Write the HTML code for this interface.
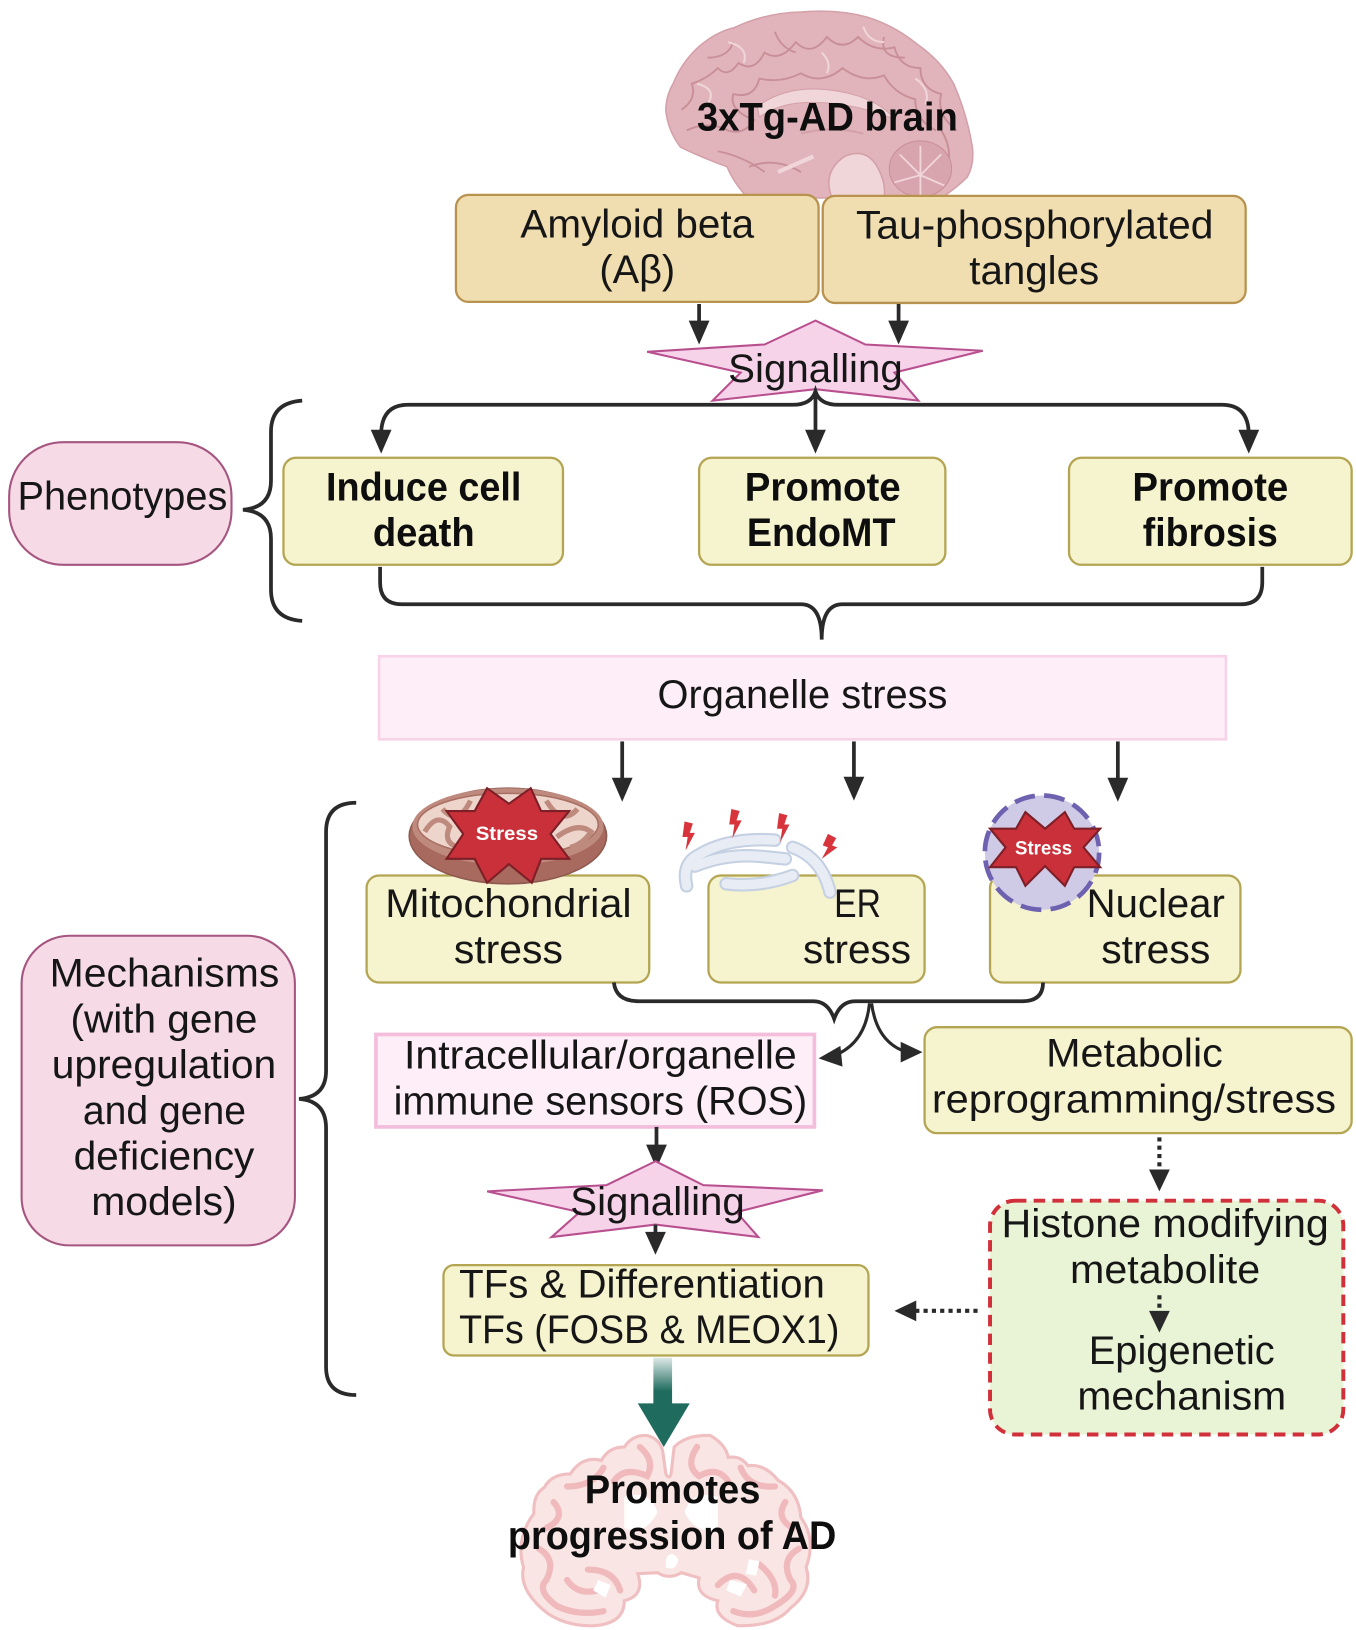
<!DOCTYPE html>
<html>
<head>
<meta charset="utf-8">
<style>
html,body{margin:0;padding:0;background:#fff;}
svg{display:block;}
text{font-family:"Liberation Sans",sans-serif;font-size:38px;fill:#161616;}
.b{font-weight:700;fill:#0e0e0e;}
.s{font-weight:700;font-size:19px;fill:#fff;}
.box{fill:#f6f3cf;stroke:#b3a552;stroke-width:2.2;}
.tan{fill:#f0deb0;stroke:#b8924f;stroke-width:2.2;}
.ln{fill:none;stroke:#2a2a2a;stroke-width:3.6;}
.ar{fill:#2a2a2a;}
.dot{fill:none;stroke:#2a2a2a;stroke-width:4;stroke-dasharray:4 4;}
.pill{fill:#f6dbe6;stroke:#a5557f;stroke-width:2;}
.star{fill:#f7d3ea;stroke:#b8508f;stroke-width:2;}
.fold{fill:none;stroke:#c98f99;stroke-width:1.8;}
.lite{fill:none;stroke:#efd5d8;stroke-width:2;}
.cf{fill:none;stroke:#f0babd;stroke-width:6;stroke-linecap:round;}
.er1{fill:none;stroke:#c5d1e2;stroke-width:13;stroke-linecap:round;}
.er2{fill:none;stroke:#e8edf5;stroke-width:9;stroke-linecap:round;}
</style>
</head>
<body>
<svg xmlns="http://www.w3.org/2000/svg" width="1356" height="1630" viewBox="-0.8 -0.5 1305 1568.6">
<defs>
<linearGradient id="g" x1="0" y1="0" x2="0" y2="1">
<stop offset="0" stop-color="#1f6b5e" stop-opacity="0.15"/>
<stop offset="0.7" stop-color="#1f6b5e"/>
</linearGradient>
</defs>

<!-- sagittal brain -->
<path d="M640,106 Q640,92 647,80 Q655,60 671,45 Q688,30 706,26 Q735,12 770,11 Q805,8 834,16 Q860,24 882,42 Q905,58 917,80 Q930,110 935,141 Q937,158 930,170 Q920,180 905,190 L719,190 Q705,175 699,160 Q672,150 654,141 Q642,125 640,106 Z" fill="#e0b4ba" stroke="#d4a0a9" stroke-width="1.5"/>
<path class="fold" d="M655,105 Q670,95 665,80 Q680,75 690,65 Q700,75 710,60 Q725,70 735,50 Q750,60 765,40 Q780,55 795,35 Q810,50 825,35 Q840,50 860,45 Q865,65 885,65 Q885,85 905,90 Q900,110 920,125 M660,125 Q680,115 700,125 Q715,130 725,115 Q700,105 705,90 Q725,95 730,75 Q750,80 770,70 Q790,82 810,65 Q830,80 850,72 Q860,90 880,95 Q880,115 900,125 M680,55 Q700,55 705,40 M745,30 Q750,45 765,50 M850,35 Q845,55 870,55 M905,125 Q915,140 912,160 M690,145 Q715,150 735,165 M720,160 Q745,150 770,165"/>
<path class="lite" d="M670,80 Q690,85 680,100 M790,50 Q800,60 795,70 M700,40 Q720,45 715,60 M830,25 Q835,40 850,40 M880,75 Q895,85 890,100"/>
<path d="M728,102 Q760,78 810,88 Q845,95 860,114 Q820,98 780,98 Q750,98 730,112 Z" fill="#f0d6d9" stroke="#d4a0a9" stroke-width="1"/>
<path d="M800,190 Q790,165 812,150 Q835,140 846,165 Q852,178 850,190 Z" fill="#f0d6d9" stroke="#d4a0a9" stroke-width="1.5"/>
<ellipse cx="885" cy="162" rx="30" ry="27" fill="#d8a4ad" stroke="#c98f99"/>
<path d="M885,168 L865,148 M885,168 L905,148 M885,168 L860,175 M885,168 L908,178 M885,168 L885,190 M885,168 L885,140" stroke="#f0d6d9" stroke-width="1.8"/>
<path d="M748,165 L782,150" stroke="#f0d6d9" stroke-width="4"/>
<path d="M770,128 Q800,120 830,128" stroke="#d4a0a9" stroke-width="2" fill="none"/>

<!-- top boxes -->
<rect class="tan" x="438" y="187" width="349" height="103" rx="12"/>
<rect class="tan" x="791" y="188" width="407" height="103" rx="12"/>
<text class="b" x="670" y="125" textLength="251" lengthAdjust="spacingAndGlyphs">3xTg-AD brain</text>
<text x="500" y="228" textLength="225" lengthAdjust="spacingAndGlyphs">Amyloid beta</text>
<text x="576" y="272" textLength="73" lengthAdjust="spacingAndGlyphs">(Aβ)</text>
<text x="823" y="229" textLength="344" lengthAdjust="spacingAndGlyphs">Tau-phosphorylated</text>
<text x="932" y="273" textLength="125" lengthAdjust="spacingAndGlyphs">tangles</text>

<line class="ln" x1="672" y1="292" x2="672" y2="312"/><polygon class="ar" points="662,308 682,308 672,331"/>
<line class="ln" x1="864" y1="292" x2="864" y2="312"/><polygon class="ar" points="854,308 874,308 864,331"/>

<!-- star 1 -->
<polygon class="star" points="784,308 832,331 945,337 860,358 883,385 784,374 685,385 712,358 622,338 735,331"/>
<text x="700" y="367" textLength="168" lengthAdjust="spacingAndGlyphs">Signalling</text>

<path class="ln" d="M366,418 Q366,389 392,389 H762 Q780,389 784,376 Q788,389 806,389 H1175 Q1201,389 1201,418"/>
<line class="ln" x1="784" y1="376" x2="784" y2="416"/>
<polygon class="ar" points="356,413 376,413 366,436"/>
<polygon class="ar" points="774,413 794,413 784,436"/>
<polygon class="ar" points="1191,413 1211,413 1201,436"/>

<!-- phenotypes -->
<path class="ln" d="M290,385 Q260,387 260,415 V462 Q260,488 233,490 Q260,492 260,518 V567 Q260,595 290,597"/>
<rect class="pill" x="8" y="425" width="214" height="118" rx="52"/>
<text x="16" y="490" textLength="202" lengthAdjust="spacingAndGlyphs">Phenotypes</text>
<rect class="box" x="272" y="440" width="269" height="103" rx="12"/>
<rect class="box" x="672" y="440" width="237" height="103" rx="12"/>
<rect class="box" x="1028" y="440" width="272" height="103" rx="12"/>
<text class="b" x="313" y="481" textLength="188" lengthAdjust="spacingAndGlyphs">Induce cell</text>
<text class="b" x="358" y="525" textLength="98" lengthAdjust="spacingAndGlyphs">death</text>
<text class="b" x="716" y="481" textLength="150" lengthAdjust="spacingAndGlyphs">Promote</text>
<text class="b" x="718" y="525" textLength="143" lengthAdjust="spacingAndGlyphs">EndoMT</text>
<text class="b" x="1089" y="481" textLength="150" lengthAdjust="spacingAndGlyphs">Promote</text>
<text class="b" x="1099" y="525" textLength="130" lengthAdjust="spacingAndGlyphs">fibrosis</text>

<path class="ln" d="M365,545 V560 Q365,581 386,581 H770 Q790,581 790,615 Q790,581 810,581 H1193 Q1214,581 1214,560 V545"/>

<!-- organelle -->
<rect x="364" y="631" width="815" height="80" fill="#fdeef7" stroke="#f8d2e8" stroke-width="2.5"/>
<text x="632" y="681" textLength="279" lengthAdjust="spacingAndGlyphs">Organelle stress</text>
<line class="ln" x1="598" y1="713" x2="598" y2="752"/><polygon class="ar" points="588,748 608,748 598,771"/>
<line class="ln" x1="821" y1="713" x2="821" y2="751"/><polygon class="ar" points="811,747 831,747 821,770"/>
<line class="ln" x1="1075" y1="713" x2="1075" y2="752"/><polygon class="ar" points="1065,748 1085,748 1075,771"/>

<!-- mechanisms -->
<path class="ln" d="M342,772 Q313,772 313,800 V1030 Q313,1055 287,1057 Q313,1059 313,1085 V1315 Q313,1342 342,1342"/>
<rect class="pill" x="20" y="900" width="263" height="298" rx="46"/>
<text x="47" y="949" textLength="221" lengthAdjust="spacingAndGlyphs">Mechanisms</text>
<text x="67" y="993" textLength="180" lengthAdjust="spacingAndGlyphs">(with gene</text>
<text x="49" y="1037" textLength="216" lengthAdjust="spacingAndGlyphs">upregulation</text>
<text x="79" y="1081" textLength="157" lengthAdjust="spacingAndGlyphs">and gene</text>
<text x="70" y="1125" textLength="174" lengthAdjust="spacingAndGlyphs">deficiency</text>
<text x="87" y="1169" textLength="140" lengthAdjust="spacingAndGlyphs">models)</text>

<!-- organelle boxes -->
<rect class="box" x="352" y="842" width="272" height="103" rx="12"/>
<rect class="box" x="681" y="842" width="208" height="103" rx="12"/>
<rect class="box" x="952" y="842" width="241" height="103" rx="12"/>

<!-- mitochondrion -->
<ellipse cx="488" cy="804" rx="95" ry="46" fill="#a8695e" stroke="#8e5a50" stroke-width="1.5"/>
<ellipse cx="488" cy="795" rx="92" ry="37" fill="#bf8a7e"/>
<ellipse cx="488" cy="793" rx="87" ry="30" fill="#edd5cc" stroke="#a96f63" stroke-width="1.5"/>
<path d="M408,800 Q420,780 432,795 Q425,810 440,815 M425,778 Q440,795 452,770 M525,770 Q540,795 555,778 M535,805 Q555,790 568,800 Q560,812 548,815" fill="none" stroke="#bf8a7e" stroke-width="5"/>
<polygon points="468,758 489,773 510,758 520,780 547,780 529,802 547,826 520,826 511,849 489,831 468,849 456,826 429,826 445,802 429,780 456,780" fill="#c9303a" stroke="#7d1f27" stroke-width="2"/>
<text class="s" x="457" y="808" textLength="60" lengthAdjust="spacingAndGlyphs">Stress</text>

<!-- ER -->
<path class="er1" d="M660,852 Q655,830 672,822 Q700,805 745,808"/>
<path class="er1" d="M668,833 Q700,820 735,824 L755,826"/>
<path class="er1" d="M698,850 Q730,854 762,842"/>
<path class="er1" d="M762,815 Q790,825 798,858"/>
<path class="er2" d="M660,852 Q655,830 672,822 Q700,805 745,808"/>
<path class="er2" d="M668,833 Q700,820 735,824 L755,826"/>
<path class="er2" d="M698,850 Q730,854 762,842"/>
<path class="er2" d="M762,815 Q790,825 798,858"/>
<g fill="#d8343c">
<polygon points="658,790 666,792 663,801 668,801 659,818 661,805 656,805"/>
<polygon points="703,778 711,780 708,789 713,789 704,806 706,793 701,793"/>
<polygon points="749,782 757,784 754,793 759,793 750,810 752,797 747,797"/>
<polygon points="796,802 804,806 800,813 805,815 790,826 796,815 791,813"/>
</g>

<!-- nucleus -->
<circle cx="1002" cy="820" r="55" fill="#cfcae6" stroke="#6e62b0" stroke-width="4.5" stroke-dasharray="20 9"/>
<polygon points="986,781 1005,797 1024,781 1033,797 1058,797 1042,815 1058,834 1033,834 1024,852 1005,833 986,852 977,834 952,834 967,815 952,797 977,797" fill="#c9303a" stroke="#7d1f27" stroke-width="2"/>
<text class="s" x="976" y="822" textLength="55" lengthAdjust="spacingAndGlyphs">Stress</text>

<text x="370" y="882" textLength="237" lengthAdjust="spacingAndGlyphs">Mitochondrial</text>
<text x="436" y="926" textLength="105" lengthAdjust="spacingAndGlyphs">stress</text>
<text x="802" y="882" textLength="45" lengthAdjust="spacingAndGlyphs">ER</text>
<text x="772" y="926" textLength="104" lengthAdjust="spacingAndGlyphs">stress</text>
<text x="1045" y="882" textLength="133" lengthAdjust="spacingAndGlyphs">Nuclear</text>
<text x="1059" y="926" textLength="105" lengthAdjust="spacingAndGlyphs">stress</text>

<path class="ln" d="M590,945 Q592,963 614,963 H782 Q796,963 802,980 Q808,963 822,963 H983 Q1003,963 1003,945"/>
<path d="M836,965 Q832,1005 800,1016" fill="none" stroke="#2a2a2a" stroke-width="3"/>
<polygon class="ar" points="787,1018 808,1006 810,1026"/>
<path d="M838,965 Q843,1003 872,1012" fill="none" stroke="#2a2a2a" stroke-width="3"/>
<polygon class="ar" points="887,1012 866,1002 866,1022"/>

<rect x="361" y="995" width="422" height="89" fill="#fdeef7" stroke="#f3bddb" stroke-width="3.5"/>
<text x="388" y="1028" textLength="378" lengthAdjust="spacingAndGlyphs">Intracellular/organelle</text>
<text x="378" y="1072" textLength="398" lengthAdjust="spacingAndGlyphs">immune sensors (ROS)</text>
<rect class="box" x="889" y="988" width="411" height="102" rx="12"/>
<text x="1006" y="1026" textLength="170" lengthAdjust="spacingAndGlyphs">Metabolic</text>
<text x="896" y="1070" textLength="389" lengthAdjust="spacingAndGlyphs">reprogramming/stress</text>

<line class="ln" x1="631" y1="1084" x2="631" y2="1105"/><polygon class="ar" points="621,1101 641,1101 631,1124"/>

<!-- star 2 -->
<polygon class="star" points="630,1117 676,1140 791,1145 708,1166 729,1190 630,1178 530,1190 557,1166 468,1146 583,1140"/>
<text x="548" y="1169" textLength="168" lengthAdjust="spacingAndGlyphs">Signalling</text>
<line class="ln" x1="630" y1="1178" x2="630" y2="1190"/><polygon class="ar" points="620,1185 640,1185 630,1207"/>

<rect class="box" x="426" y="1217" width="409" height="87" rx="10"/>
<text x="441" y="1248" textLength="352" lengthAdjust="spacingAndGlyphs">TFs &amp; Differentiation</text>
<text x="441" y="1292" textLength="366" lengthAdjust="spacingAndGlyphs">TFs (FOSB &amp; MEOX1)</text>

<!-- dotted + epigenetic -->
<line class="dot" x1="1115" y1="1094" x2="1115" y2="1128"/><polygon class="ar" points="1105,1125 1125,1125 1115,1146"/>
<rect x="952" y="1155" width="340" height="225" rx="24" fill="#e9f3d5" stroke="#d1303a" stroke-width="3.8" stroke-dasharray="11 7"/>
<text x="963" y="1190" textLength="315" lengthAdjust="spacingAndGlyphs">Histone modifying</text>
<text x="1029" y="1234" textLength="183" lengthAdjust="spacingAndGlyphs">metabolite</text>
<line class="dot" x1="1115" y1="1246" x2="1115" y2="1264"/><polygon class="ar" points="1105,1261 1125,1261 1115,1282"/>
<text x="1047" y="1312" textLength="179" lengthAdjust="spacingAndGlyphs">Epigenetic</text>
<text x="1036" y="1356" textLength="201" lengthAdjust="spacingAndGlyphs">mechanism</text>
<line class="dot" x1="940" y1="1261" x2="880" y2="1261"/><polygon class="ar" points="860,1261 881,1251 881,1271"/>

<!-- coronal brain -->
<path d="M622,1381 Q634,1384 637,1396 L640,1418 Q643,1424 645,1418 L648,1392 Q660,1380 683,1381 Q698,1390 700,1402 Q712,1400 719,1410 Q735,1408 748,1424 Q768,1435 770,1460 Q785,1480 775,1508 Q782,1530 760,1547 Q745,1565 709,1564 Q685,1555 690,1540 Q668,1535 672,1518 L655,1513 Q643,1520 632,1513 L613,1514 Q620,1535 600,1540 Q600,1562 571,1564 Q545,1565 526,1552 Q498,1530 503,1508 Q495,1480 513,1456 Q512,1438 523,1431 Q530,1418 548,1418 Q560,1400 578,1405 Q585,1392 600,1392 Q608,1380 622,1381 Z" fill="#f9e5e3" stroke="#f0bfc1" stroke-width="3"/>
<path class="cf" d="M615,1392 Q630,1405 622,1420 Q600,1410 590,1425 M580,1412 Q570,1430 545,1430 M532,1445 Q545,1460 525,1470 M518,1490 Q535,1500 525,1520 Q515,1530 535,1545 Q555,1555 580,1550 M565,1510 Q590,1510 596,1530 M545,1520 Q555,1535 575,1530 M670,1392 Q658,1410 672,1420 Q690,1410 700,1425 M712,1412 Q720,1432 745,1430 M755,1445 Q745,1460 762,1470 M768,1490 Q750,1500 760,1520 Q770,1530 745,1545 Q725,1558 705,1550 M690,1525 Q710,1505 725,1530 M730,1505 Q748,1520 745,1535"/>
<path d="M600,1440 Q625,1432 632,1455 Q620,1478 600,1470 Z M690,1440 Q665,1432 658,1455 Q670,1478 690,1470 Z M640,1500 Q645,1490 652,1500 Q650,1512 640,1508 Z" fill="#fff"/>
<path d="M575,1520 l12,5 -5,12 -12,-7 Z M702,1520 l16,4 -6,12 -14,-6 Z M720,1500 l10,2 -3,14 -10,-2 Z" fill="#fff"/>

<!-- green arrow -->
<rect x="628" y="1306" width="18" height="46" fill="url(#g)"/>
<polygon points="613,1350 663,1350 638,1392" fill="#1f6b5e"/>

<text class="b" x="562" y="1446" textLength="169" lengthAdjust="spacingAndGlyphs">Promotes</text>
<text class="b" x="488" y="1490" textLength="316" lengthAdjust="spacingAndGlyphs">progression of AD</text>
</svg>
</body>
</html>
